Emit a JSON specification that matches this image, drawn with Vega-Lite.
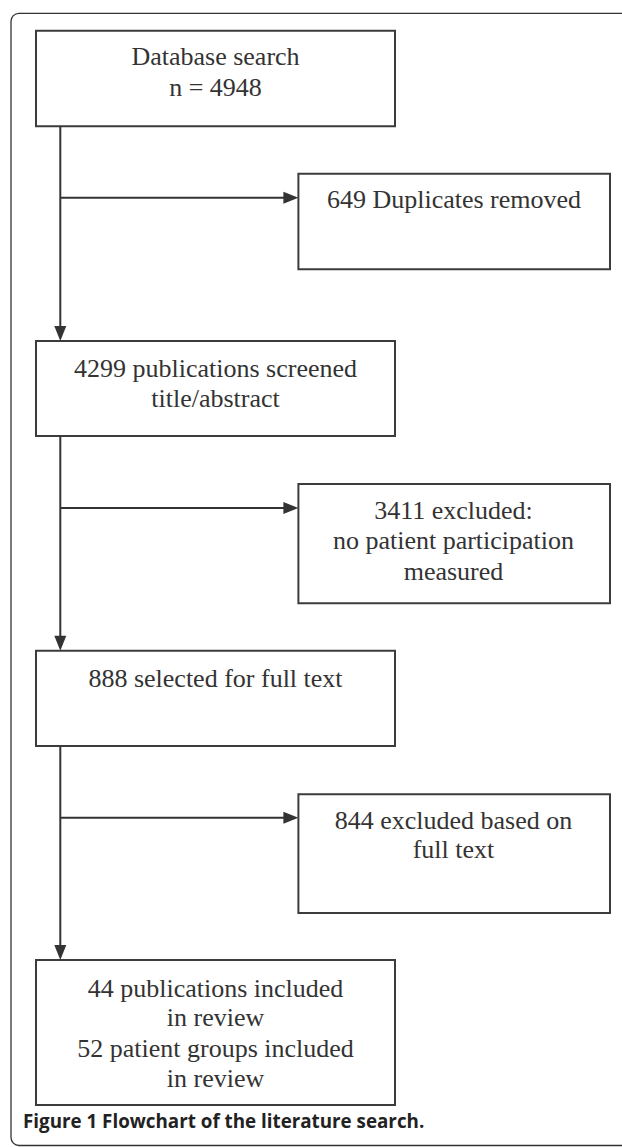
{
  "$schema": "https://vega.github.io/schema/vega-lite/v6.json",
  "width": 622,
  "height": 1147,
  "autosize": "none",
  "padding": 0,
  "background": "white",
  "config": {"view": {"stroke": null}},
  "layer": [
    {
      "data": {"values": [{"x": 11, "x2": 700, "y": 13.3, "y2": 1145.5}]},
      "mark": {"type": "rect", "fill": "transparent", "stroke": "#333333", "strokeWidth": 1.3, "cornerRadius": 8},
      "encoding": {
        "x": {"field": "x", "type": "quantitative", "scale": {"domain": [0, 622], "nice": false, "zero": false}, "axis": null},
        "x2": {"field": "x2"},
        "y": {"field": "y", "type": "quantitative", "scale": {"domain": [0, 1147], "nice": false, "zero": false, "reverse": true}, "axis": null},
        "y2": {"field": "y2"}
      }
    },
    {
      "data": {"values": [
        {"box": "b1", "x": 36, "x2": 395, "y": 30.7, "y2": 126.3},
        {"box": "b2", "x": 298.4, "x2": 610, "y": 173.7, "y2": 269.3},
        {"box": "b3", "x": 36, "x2": 395, "y": 341, "y2": 436},
        {"box": "b4", "x": 298.4, "x2": 610, "y": 484, "y2": 603.3},
        {"box": "b5", "x": 36, "x2": 395, "y": 650.7, "y2": 746},
        {"box": "b6", "x": 298.4, "x2": 610, "y": 794.3, "y2": 913},
        {"box": "b7", "x": 36, "x2": 395, "y": 960, "y2": 1105}
      ]},
      "mark": {"type": "rect", "fill": "white", "stroke": "#3c3c3c", "strokeWidth": 2},
      "encoding": {
        "x": {"field": "x", "type": "quantitative", "axis": null},
        "x2": {"field": "x2"},
        "y": {"field": "y", "type": "quantitative", "axis": null},
        "y2": {"field": "y2"}
      }
    },
    {
      "data": {"values": [
        {"x": 60.3, "x2": 60.3, "y": 126.3, "y2": 327},
        {"x": 60.3, "x2": 60.3, "y": 436, "y2": 637},
        {"x": 60.3, "x2": 60.3, "y": 746, "y2": 946},
        {"x": 60.3, "x2": 285, "y": 197.7, "y2": 197.7},
        {"x": 60.3, "x2": 285, "y": 508, "y2": 508},
        {"x": 60.3, "x2": 285, "y": 817.7, "y2": 817.7}
      ]},
      "mark": {"type": "rule", "color": "#333333", "strokeWidth": 2},
      "encoding": {
        "x": {"field": "x", "type": "quantitative", "axis": null},
        "x2": {"field": "x2"},
        "y": {"field": "y", "type": "quantitative", "axis": null},
        "y2": {"field": "y2"}
      }
    },
    {
      "data": {"values": [
        {"dir": "down", "x": 60.3, "y": 341},
        {"dir": "down", "x": 60.3, "y": 650.7},
        {"dir": "down", "x": 60.3, "y": 960},
        {"dir": "right", "x": 298.4, "y": 197.7},
        {"dir": "right", "x": 298.4, "y": 508},
        {"dir": "right", "x": 298.4, "y": 817.7}
      ]},
      "mark": {"type": "point", "filled": true, "color": "#333333", "opacity": 1, "size": 144, "strokeWidth": 0},
      "encoding": {
        "x": {"field": "x", "type": "quantitative", "axis": null},
        "y": {"field": "y", "type": "quantitative", "axis": null},
        "shape": {"field": "dir", "type": "nominal", "scale": {"domain": ["down", "right"], "range": ["M-1,-2.5L1,-2.5L0,0Z", "M-2.5,-1L-2.5,1L0,0Z"]}, "legend": null}
      }
    },
    {
      "data": {"values": [
        {"t": "Database search", "x": 215.5, "y": 65},
        {"t": "n = 4948", "x": 215.5, "y": 96},
        {"t": "649 Duplicates removed", "x": 454, "y": 208.3},
        {"t": "4299 publications screened", "x": 215.5, "y": 376.7},
        {"t": "title/abstract", "x": 215.5, "y": 407},
        {"t": "3411 excluded:", "x": 453.5, "y": 518.5},
        {"t": "no patient participation", "x": 453.5, "y": 549},
        {"t": "measured", "x": 453.5, "y": 579.5},
        {"t": "888 selected for full text", "x": 215.5, "y": 686.7},
        {"t": "844 excluded based on", "x": 453.5, "y": 829},
        {"t": "full text", "x": 453.5, "y": 858.3},
        {"t": "44 publications included", "x": 215.5, "y": 996.7},
        {"t": "in review", "x": 215.5, "y": 1026},
        {"t": "52 patient groups included", "x": 215.5, "y": 1056.7},
        {"t": "in review", "x": 215.5, "y": 1086.7}
      ]},
      "mark": {"type": "text", "font": "Liberation Serif", "fontSize": 26, "color": "#333333", "align": "center", "baseline": "alphabetic"},
      "encoding": {
        "x": {"field": "x", "type": "quantitative", "axis": null},
        "y": {"field": "y", "type": "quantitative", "axis": null},
        "text": {"field": "t", "type": "nominal"}
      }
    },
    {
      "data": {"values": [
        {"t": "Figure 1 Flowchart of the literature search.", "x": 23, "y": 1128}
      ]},
      "mark": {"type": "text", "font": "Open Sans", "fontSize": 18.8, "fontWeight": "bold", "color": "#222222", "align": "left", "baseline": "alphabetic"},
      "encoding": {
        "x": {"field": "x", "type": "quantitative", "axis": null},
        "y": {"field": "y", "type": "quantitative", "axis": null},
        "text": {"field": "t", "type": "nominal"}
      }
    }
  ]
}
